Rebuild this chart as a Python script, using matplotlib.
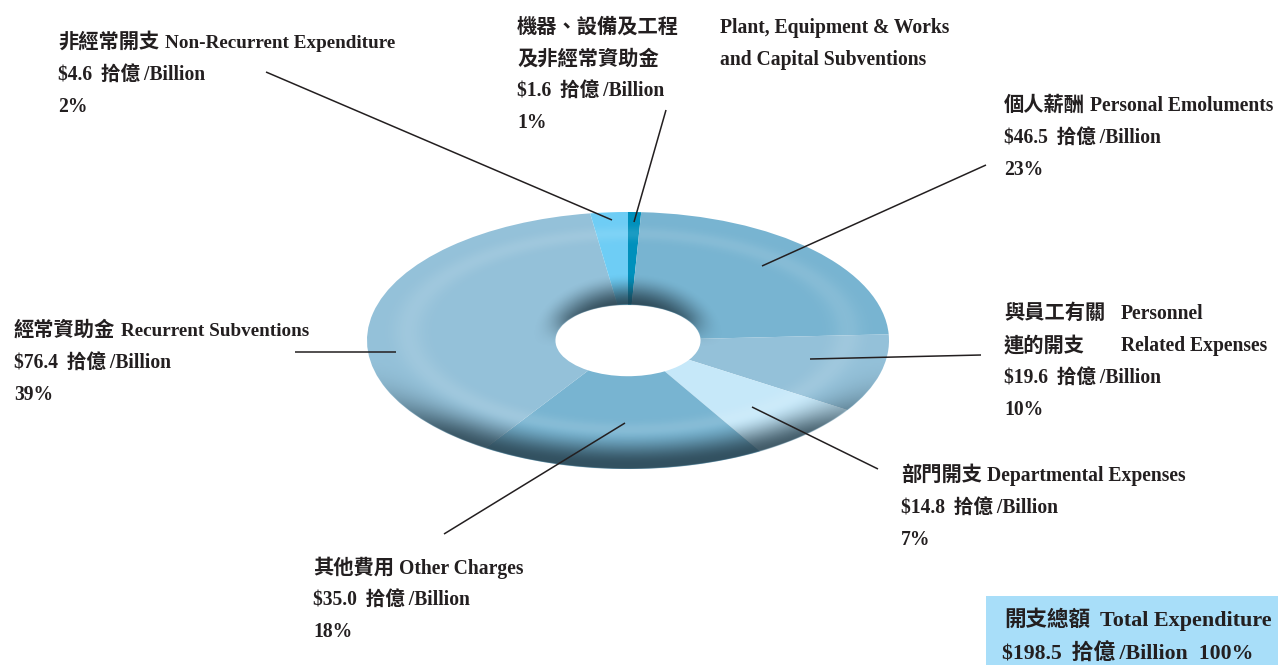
import numpy as np
from matplotlib import pyplot as plt
from matplotlib.patches import Rectangle

plt.rcParams['font.family'] = ['Liberation Serif', 'Noto Sans CJK TC']
plt.rcParams['font.weight'] = 'bold'

W, H = 1278, 665
INK = '#231f20'

# clockwise from 12 o'clock
names = ['Plant', 'Personal', 'Personnel', 'Departmental', 'Other', 'Recurrent', 'NonRecurrent']
values = [1.6, 46.5, 19.6, 14.8, 35.0, 76.4, 4.6]
percents = [1, 23, 10, 7, 18, 39, 2]
colors = ['#0090bc', '#78b4d1', '#94c1d9', '#c6e8f9', '#78b4d1', '#94c1d9', '#6ecdf5']
total = 198.5
total_percent = 100

fig = plt.figure(figsize=(W / 100, H / 100), dpi=100)

# donut, squashed by giving it a flat axes
cx, cy, rx, ry = 628, 340.5, 261, 128.5
ax = fig.add_axes([(cx - rx) / W, 1 - (cy + ry) / H, 2 * rx / W, 2 * ry / H])
hole = 0.278
ax.pie(values, colors=colors, startangle=90, counterclock=False, radius=1,
       wedgeprops=dict(width=1 - hole, linewidth=0))
ax.set_aspect('auto')

# shading on top of the pie, worked out in pixels from the centre
n = 1000
xx, yy = np.meshgrid(np.linspace(-1, 1, n), np.linspace(1, -1, n // 2))
rr = np.hypot(xx, yy)
px = xx * rx
py = yy * ry


def smooth(a, b, v):
    t = np.clip((v - a) / (b - a), 0, 1)
    return t * t * (3 - 2 * t)


# the bevel ellipse sits a little above the disc centre
bevel = np.hypot(px / 220, (py - 9) / 98)
light = np.exp(-((bevel - 1) / 0.07) ** 2) * 0.11

# rim goes dark towards the front
sin_a = py / np.maximum(np.hypot(px, py), 1)
front = smooth(-0.05, -0.5, sin_a)
rim = smooth(1.02, 1.36, bevel) * front * 0.8

# shadow over the back edge of the hole
halo = np.hypot(px / 98, py / 68)
back = smooth(-0.1, 0.4, sin_a)
inner = (1 - smooth(0.5, 1.0, halo)) * back * 0.85

dark = 1 - (1 - rim) * (1 - inner)
alpha = 1 - (1 - dark) * (1 - light)
mix = np.where(alpha > 0, dark / np.maximum(alpha, 1e-6), 0)
dark_rgb = [0.13, 0.22, 0.27]
shade = np.zeros(rr.shape + (4,))
for i in range(3):
    shade[..., i] = dark_rgb[i] * mix + (1 - mix)
shade[..., 3] = alpha * smooth(hole - 0.002, hole + 0.004, rr) * (1 - smooth(0.997, 1.003, rr))
ax.imshow(shade, extent=(-1, 1, -1, 1), aspect='auto', zorder=5, interpolation='bilinear')
ax.set_xlim(-1, 1)
ax.set_ylim(-1, 1)

# text, leaders and box in pixel coordinates
top = fig.add_axes([0, 0, 1, 1])
top.set_xlim(0, W)
top.set_ylim(H, 0)
top.axis('off')
top.patch.set_alpha(0)


def money(v):
    return f'${v:.1f}\u2009 拾億\u2009/Billion'


def put(x, y, s, size=14.1):
    top.text(x, y, s, fontsize=size, color=INK, va='baseline', ha='left')


def cjk(x, y, s, size=14.6):
    top.text(x, y, s, fontsize=size, color=INK, va='baseline', ha='left')


leaders = [((666, 110), (634, 222)), ((986, 165), (762, 266)), ((981, 355), (810, 359)),
           ((878, 469), (752, 407)), ((444, 534), (625, 423)), ((295, 352), (396, 352)),
           ((266, 72), (612, 220))]
for a, b in leaders:
    top.plot([a[0], b[0]], [a[1], b[1]], color=INK, lw=1.1, solid_capstyle='butt', zorder=6)

cjk(517, 33, '機器、設備及工程')
put(720, 33, 'Plant, Equipment & Works')
cjk(517, 65, '及非經常資助金')
put(720, 65, 'and Capital Subventions')
put(517, 96, money(values[0]))
put(517, 128, f'{percents[0]}%')

cjk(1004, 111, '個人薪酬')
put(1090, 111, 'Personal Emoluments')
put(1004, 143, money(values[1]))
put(1004, 175, f'{percents[1]}%')

cjk(1004, 319, '與員工有關')
put(1121, 319, 'Personnel')
cjk(1004, 351, '連的開支')
put(1121, 351, 'Related Expenses')
put(1004, 383, money(values[2]))
put(1004, 415, f'{percents[2]}%')

cjk(901, 481, '部門開支')
put(987, 481, 'Departmental Expenses')
put(901, 513, money(values[3]))
put(901, 545, f'{percents[3]}%')

cjk(313, 574, '其他費用')
put(399, 574, 'Other Charges')
put(313, 605, money(values[4]))
put(313, 637, f'{percents[4]}%')

cjk(14, 336, '經常資助金')
put(121, 336, 'Recurrent Subventions', 13.75)
put(14, 368, money(values[5]))
put(14, 400, f'{percents[5]}%')

cjk(58, 48, '非經常開支')
put(165, 48, 'Non-Recurrent Expenditure', 13.8)
put(58, 80, money(values[6]))
put(58, 112, f'{percents[6]}%')

top.add_patch(Rectangle((986, 596), 292, 69, facecolor='#a8def9', edgecolor='none'))
cjk(1004, 626, '開支總額', 15.5)
put(1100, 626, 'Total Expenditure', 15.9)
put(1002, 660, f'{money(total)}  {total_percent}%', 15.7)

fig.savefig('out.png', dpi=100)
